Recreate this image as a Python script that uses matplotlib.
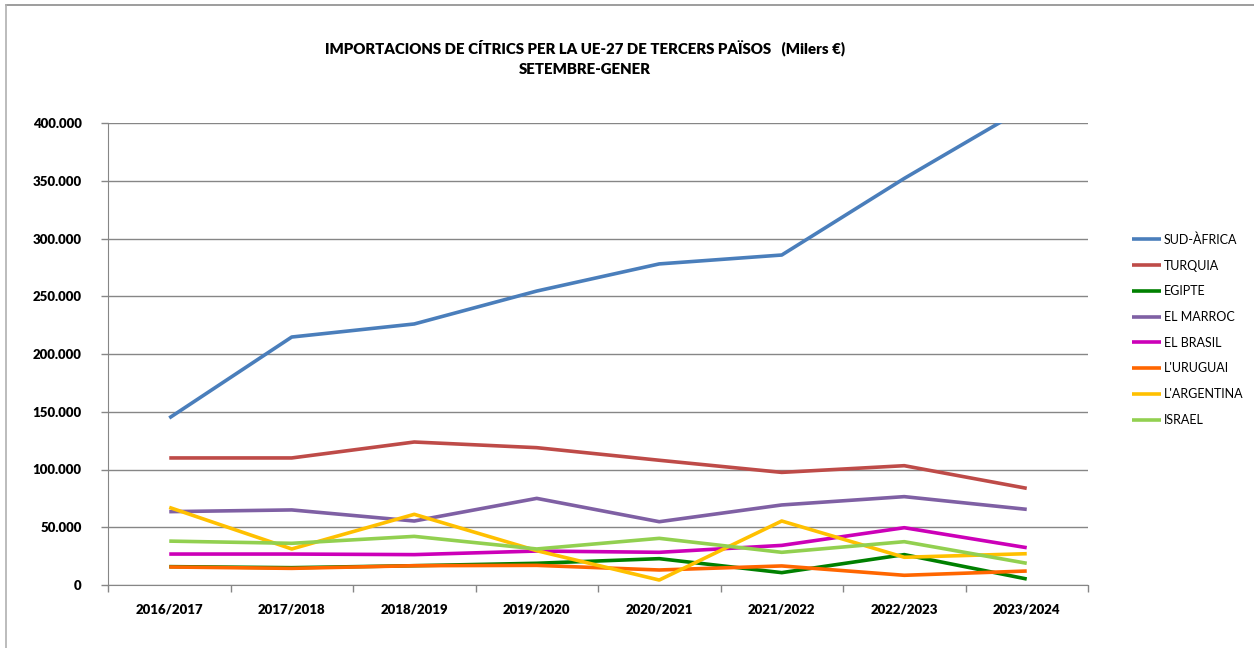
import matplotlib
matplotlib.use("Agg")
import matplotlib.pyplot as plt
from matplotlib.lines import Line2D
from matplotlib.ticker import FuncFormatter, MultipleLocator

plt.rcParams['font.family'] = ['Lato', 'DejaVu Sans']

seasons = ["2016/2017", "2017/2018", "2018/2019", "2019/2020",
           "2020/2021", "2021/2022", "2022/2023", "2023/2024"]

sud_africa = [144600, 214700, 226000, 254500, 278000, 285700, 352000, 414000]
turquia    = [110000, 110000, 123800, 118900, 108000, 97500, 103300, 83700]
egipte     = [15900, 15000, 16700, 18800, 22800, 10700, 26300, 5200]
el_marroc  = [63500, 65000, 55400, 75000, 54800, 69300, 76500, 65500]
el_brasil  = [26800, 26800, 26300, 29400, 28300, 34300, 49600, 32300]
uruguai    = [15600, 14400, 16700, 17000, 13000, 16500, 8400, 12100]
argentina  = [67200, 31200, 61200, 29700, 4300, 55400, 24000, 27100]
israel     = [38000, 36100, 42100, 31200, 40400, 28300, 37500, 18800]

series_names = ["SUD-ÀFRICA", "TURQUIA", "EGIPTE", "EL MARROC", "EL BRASIL",
                "L'URUGUAI", "L'ARGENTINA", "ISRAEL"]
series_values = [sud_africa, turquia, egipte, el_marroc, el_brasil,
                 uruguai, argentina, israel]
colors = ["#4A7EBB", "#BE4B48", "#008000", "#7F60A4", "#CC00B8",
          "#FF6600", "#FFC000", "#92D050"]

fig = plt.figure(figsize=(12.54, 6.48), dpi=100)
W, H = 1254, 648
ax = fig.add_axes([108 / W, 1 - 585 / H, (1088 - 108) / W, (585 - 123) / H])

x = list(range(len(seasons)))
handles = []
for name, vals, c in zip(series_names, series_values, colors):
    ln, = ax.plot(x, vals, color=c, lw=2.6, solid_capstyle='butt', label=name, zorder=3)
    handles.append(ln)

ax.set_xlim(-0.5, len(seasons) - 0.5)
ax.set_ylim(0, 400000)
ax.yaxis.set_major_locator(MultipleLocator(50000))
ax.yaxis.set_major_formatter(FuncFormatter(lambda v, p: "0" if v == 0 else f"{int(v):,}".replace(",", ".")))
ax.grid(axis='y', color='#868686', lw=1.0, zorder=0)
ax.set_xticks(x)
ax.set_xticklabels(seasons, fontsize=9.5, fontweight='heavy')
ax.set_xticks([i - 0.5 for i in range(len(seasons) + 1)], minor=True)
ax.tick_params(axis='x', which='major', length=0, pad=13)
ax.tick_params(axis='x', which='minor', length=5, color='#868686', width=1)
ax.tick_params(axis='y', length=5, color='#868686', width=1, labelsize=9.5, pad=14)
for lbl in ax.get_yticklabels():
    lbl.set_fontweight('heavy')
for s in ['top', 'right']:
    ax.spines[s].set_visible(False)
ax.spines['left'].set_color('#868686')
ax.spines['bottom'].set_color('#868686')

fig.text(585 / W, 1 - 48 / H, "IMPORTACIONS DE CÍTRICS PER LA UE-27 DE TERCERS PAÏSOS   (Milers €)",
         ha='center', va='center', fontsize=10.85, fontweight='heavy')
fig.text(585 / W, 1 - 70 / H, "SETEMBRE-GENER",
         ha='center', va='center', fontsize=10.85, fontweight='heavy')

leg = fig.legend(handles=handles, loc='upper left', bbox_to_anchor=(1126 / W, 1 - 227 / H),
                 frameon=False, fontsize=9, handlelength=2.3, handletextpad=0.2,
                 labelspacing=1.1, borderpad=0)

# outer chart frame (top and left edges)
fig.add_artist(Line2D([6 / W, 1], [1 - 5 / H, 1 - 5 / H], transform=fig.transFigure,
                      color='#8c8c8c', lw=1.2))
fig.add_artist(Line2D([6 / W, 6 / W], [0, 1 - 5 / H], transform=fig.transFigure,
                      color='#b0b0b0', lw=1.2))

fig.savefig("out.png", dpi=100)
